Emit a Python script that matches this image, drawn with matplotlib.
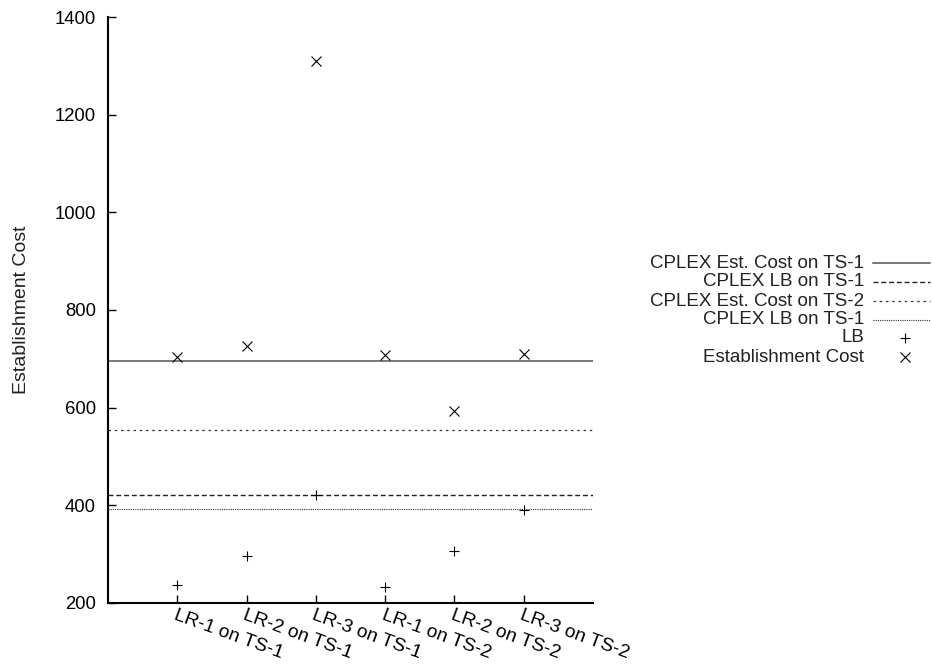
import matplotlib
matplotlib.use("Agg")
import matplotlib.pyplot as plt
from matplotlib.lines import Line2D

plt.rcParams['font.family'] = ['Liberation Sans', 'DejaVu Sans']

categories = ["LR-1 on TS-1", "LR-2 on TS-1", "LR-3 on TS-1",
              "LR-1 on TS-2", "LR-2 on TS-2", "LR-3 on TS-2"]
lb_values = [236, 295, 420, 233, 306, 391]
est_cost_values = [704, 727, 1310, 707, 592, 709]
cplex_est_ts1 = 695
cplex_lb_ts1 = 420
cplex_est_ts2 = 555
cplex_lb_ts1_b = 392
yticks = [200, 400, 600, 800, 1000, 1200, 1400]

W, H = 932, 664
fig = plt.figure(figsize=(W / 100, H / 100), dpi=100)
ax = fig.add_axes([108 / W, 1 - 602.7 / H, (593 - 108) / W, (602.7 - 17.3) / H])

ref_lines = [
    ("CPLEX Est. Cost on TS-1", cplex_est_ts1, dict(color="#555555", lw=1.1, linestyle="-")),
    ("CPLEX LB on TS-1", cplex_lb_ts1, dict(color="#222222", lw=1.0, linestyle=(0, (3.6, 2.0)))),
    ("CPLEX Est. Cost on TS-2", cplex_est_ts2, dict(color="#333333", lw=0.9, linestyle=(0, (2.0, 3.0)))),
    ("CPLEX LB on TS-1", cplex_lb_ts1_b, dict(color="#333333", lw=0.8, linestyle=(0, (1.0, 1.0)))),
]
for label, val, st in ref_lines:
    ax.axhline(val, **st)

x = list(range(1, len(categories) + 1))
lb_style = dict(marker="+", linestyle="none", color="black", markersize=7, markeredgewidth=0.8)
est_style = dict(marker="x", linestyle="none", color="black", markersize=6.5, markeredgewidth=0.8)
ax.plot(x, lb_values, **lb_style)
ax.plot(x, est_cost_values, **est_style)

ax.set_xlim(0, 7)
ax.set_ylim(200, 1400)
ax.set_yticks(yticks)
ax.set_xticks(x)
ax.set_xticklabels(categories, rotation=-20, ha="left", va="top", rotation_mode="anchor",
                   fontsize=13.8)
for s in ["top", "right"]:
    ax.spines[s].set_visible(False)
for s in ["left", "bottom"]:
    ax.spines[s].set_linewidth(1.5)
ax.tick_params(axis="both", direction="in", length=5.5, width=1.0, colors="black")
ax.tick_params(axis="y", pad=8.6, labelsize=13.3)
ax.tick_params(axis="x", pad=3)
ax.set_ylabel("Establishment Cost", fontsize=14, color="#222222")
ax.yaxis.set_label_coords(-0.16, 0.5)

# legend (manual, right-aligned labels with sample on the right)
rows_y = [263, 282, 301, 320, 338, 357]
entries = [(lbl, st, None) for lbl, _, st in ref_lines] + [("LB", None, lb_style), ("Establishment Cost", None, est_style)]
for (lbl, lst, mst), ry in zip(entries, rows_y):
    yy = 1 - ry / H
    fig.text(864 / W, yy, lbl, ha="right", va="center", fontsize=13.5, color="#222222")
    if lst is not None:
        fig.add_artist(Line2D([873 / W, 930 / W], [yy, yy], transform=fig.transFigure, **lst))
    else:
        fig.add_artist(Line2D([905 / W], [yy], transform=fig.transFigure, **mst))

fig.savefig("out.png", dpi=100)
